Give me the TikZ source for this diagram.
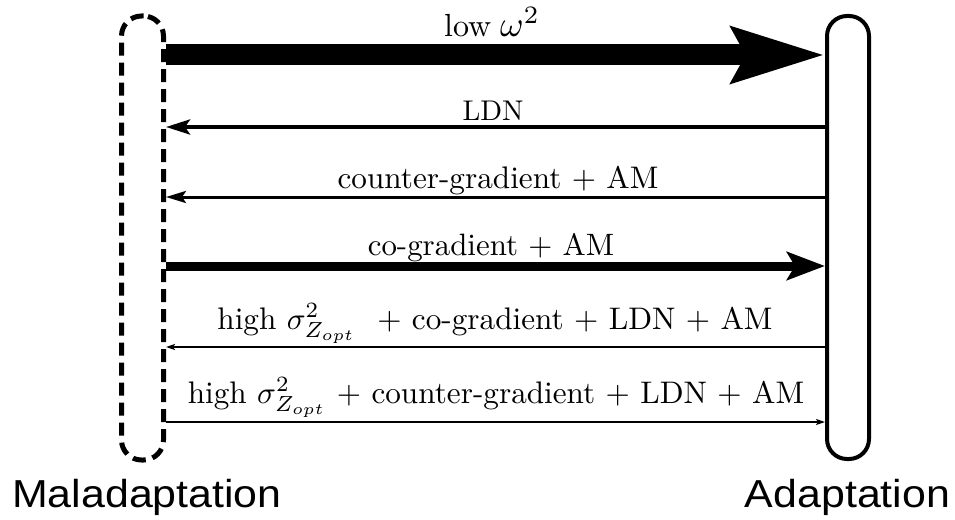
\RequirePackage{fix-cm}
\documentclass[tikz,border=0pt]{standalone}
\usepackage{fontspec}
\newfontfamily\labelfont{Liberation Sans}
\usetikzlibrary{arrows.meta}
\begin{document}
\begin{tikzpicture}[x=1pt,y=-1pt,
  state/.style={rectangle, rounded corners=20pt, inner sep=0pt, draw=black},
  lab/.style={anchor=base, inner sep=0pt},
  side/.style={anchor=base, inner sep=0pt, font=\labelfont\fontsize{39}{46}\selectfont},
]
\useasboundingbox (0,0) rectangle (955,519);
\node[state, line width=5pt, dash pattern=on 13pt off 7pt, minimum width=42pt, minimum height=444pt] (mal) at (142.5,238) {};
\node[state, line width=4pt, minimum width=42pt, minimum height=443pt] (ad) at (848,237.5) {};

\coordinate (r1) at (0,55);
\coordinate (r2) at (0,127);
\coordinate (r3) at (0,197);
\coordinate (r4) at (0,266);
\coordinate (r5) at (0,347);
\coordinate (r6) at (0,422);

\draw[line width=21pt, -{Stealth[length=92pt, width=54pt, inset=13pt]}] (mal.east |- r1) -- (ad.west |- r1);
\draw[line width=4pt, -{Stealth[length=24pt, width=15pt, inset=5pt]}] (ad.west |- r2) -- (mal.east |- r2);
\draw[line width=3pt, -{Stealth[length=20pt, width=12pt, inset=4pt]}] (ad.west |- r3) -- (mal.east |- r3);
\draw[line width=9pt, -{Stealth[length=38pt, width=28pt, inset=8pt]}] (mal.east |- r4) -- (ad.west |- r4);
\draw[line width=2pt, -{Stealth[length=9pt, width=6pt, inset=2pt]}] (ad.west |- r5) -- (mal.east |- r5);
\draw[line width=1.5pt, -{Stealth[length=9pt, width=6pt, inset=2pt]}] (mal.east |- r6) -- (ad.west |- r6);

\node[lab] (t1) at (492,37) {\scalebox{3.2}{low\hspace{2.8pt}\scalebox{1.12}{$\omega^2$}}};
\node[lab] (t2) at (493,120) {\scalebox{2.85}{LDN}};
\node[lab] (t3) at (498,188) {\scalebox{3.12}{counter-gradient $+$ AM}};
\node[lab] (t4) at (491,255) {\scalebox{3.09}{co-gradient $+$ AM}};
\node[lab] (t5) at (495,329) {\scalebox{3.12}{high $\sigma^2_{Z_{opt}}$\hspace{3.5pt} $+$ co-gradient $+$ LDN $+$ AM}};
\node[lab] (t6) at (496,403) {\scalebox{3.12}{high $\sigma^2_{Z_{opt}}$ $+$ counter-gradient $+$ LDN $+$ AM}};

\node[side] (lm) at (147,507) {\scalebox{1.1}[1]{Maladaptation}};
\node[side] (la) at (847.5,507) {\scalebox{1.1}[1]{Adaptation}};
\end{tikzpicture}
\end{document}
